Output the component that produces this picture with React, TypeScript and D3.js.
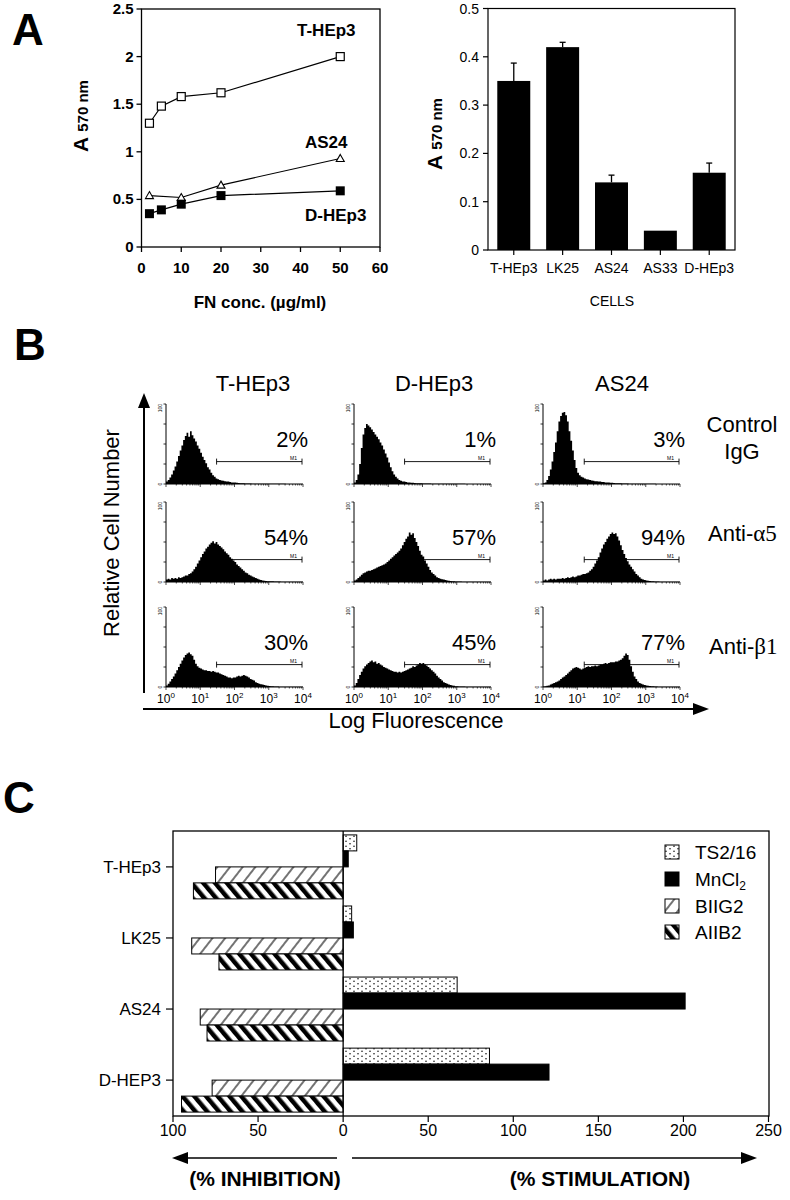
import React from 'react';
import * as d3 from 'd3';

// ---------- Panel A (left): adhesion vs FN concentration ----------
const fnConc = [2, 5, 10, 20, 50];
const tHEp3Curve = [1.3, 1.48, 1.58, 1.62, 2.0];
const as24Conc = [2, 10, 20, 50];
const as24Curve = [0.54, 0.52, 0.65, 0.93];
const dHEp3Curve = [0.35, 0.39, 0.45, 0.54, 0.59];
const fnTicks = [0, 10, 20, 30, 40, 50, 60];
const absTicksL = [0, 0.5, 1, 1.5, 2, 2.5];

// ---------- Panel A (right): bar chart ----------
const cellsA = ['T-HEp3', 'LK25', 'AS24', 'AS33', 'D-HEp3'];
const adhesion = [0.35, 0.42, 0.14, 0.04, 0.16];
const adhesionTop = [0.387, 0.43, 0.155, 0.04, 0.18];
const absTicksR = [0, 0.1, 0.2, 0.3, 0.4, 0.5];

// ---------- Panel B: flow histograms (counts per 0.05-decade bin, 10^0..10^4) ----------
const histCols = ['T-HEp3', 'D-HEp3', 'AS24'];
const histPct = [
  ['2%', '1%', '3%'],
  ['54%', '57%', '94%'],
  ['30%', '45%', '77%'],
];
const markerStart = [30, 30, 16];
const hT_ctrl = [3, 5, 8, 12, 17, 22, 28, 35, 42, 48, 55, 60, 64, 59, 66, 61, 57, 53, 48, 44, 39, 34, 30, 26, 21, 18, 14, 11, 9, 7, 6, 5, 4.5, 4, 3.5, 3, 3, 2.5, 2, 2, 1.8, 1.5, 1.2, 1, 1, 0.8, 0.7, 0.6, 0.5, 0.5, 0.4, 0.4, 0.4, 0.3, 0.3, 0.3, 0.3, 0.3, 0.3, 0.3, 0.2, 0.2, 0.2, 0.2, 0.2, 0.2, 0.2, 0.2, 0.2, 0.2, 0.1, 0.1, 0.1, 0.1, 0.1, 0.1, 0.1, 0.1, 0.1, 0.1];
const hT_a5 = [3, 4, 3, 5, 4, 5, 4, 6, 5, 6, 7, 8, 8, 10, 11, 13, 16, 19, 23, 27, 31, 35, 38, 42, 44, 47, 49, 51, 48, 50, 47, 45, 43, 41, 38, 36, 34, 31, 29, 27, 25, 22, 20, 18, 16, 14, 12, 11, 9, 8, 7, 6, 5, 4, 3, 2.5, 2, 1.5, 1.2, 1, 1, 0.8, 0.8, 0.6, 0.5, 0.5, 0.5, 0.4, 0.4, 0.4, 0.3, 0.3, 0.3, 0.3, 0.3, 0.3, 0.3, 0.3, 0.3, 0.3];
const hT_b1 = [2, 4, 7, 10, 13, 17, 21, 25, 29, 33, 37, 40, 42, 43, 41, 39, 34, 29, 26, 24, 23, 22, 21, 21, 20, 20, 19, 20, 19, 18, 18, 17, 16, 15, 14, 13, 12, 12, 11, 12, 12, 13, 14, 13, 14, 15, 14, 13, 12, 10, 9, 8, 6, 5, 4, 3.5, 3, 2.5, 2, 1.5, 1.2, 1, 0.8, 0.7, 0.6, 0.5, 0.4, 0.4, 0.3, 0.3, 0.3, 0.3, 0.2, 0.2, 0.2, 0.2, 0.2, 0.2, 0.2, 0.2];
const hD_ctrl = [2, 5, 12, 25, 45, 62, 70, 75, 73, 71, 68, 65, 62, 59, 56, 52, 48, 43, 38, 33, 27, 21, 16, 12, 9, 7, 5, 4, 3, 3, 2.5, 2, 2, 1.5, 1.5, 1.2, 1, 1, 0.8, 0.8, 0.7, 0.6, 0.5, 0.5, 0.5, 0.4, 0.4, 0.4, 0.3, 0.3, 0.3, 0.3, 0.3, 0.3, 0.2, 0.2, 0.2, 0.2, 0.2, 0.2, 0.2, 0.2, 0.2, 0.2, 0.2, 0.1, 0.1, 0.1, 0.1, 0.1, 0.1, 0.1, 0.1, 0.1, 0.1, 0.1, 0.1, 0.1, 0.1, 0.1];
const hD_a5 = [2, 3, 5, 7, 9, 11, 12, 13, 14, 14, 15, 16, 17, 18, 19, 20, 21, 22, 23, 25, 27, 29, 31, 33, 35, 37, 39, 42, 46, 50, 54, 57, 62, 59, 61, 55, 50, 45, 39, 34, 32, 27, 23, 19, 15, 12, 10, 8, 6, 5, 4, 3.5, 3, 2.5, 2, 1.5, 1.2, 1, 0.8, 0.7, 0.6, 0.5, 0.5, 0.4, 0.4, 0.3, 0.3, 0.3, 0.3, 0.3, 0.2, 0.2, 0.2, 0.2, 0.2, 0.2, 0.2, 0.2, 0.2, 0.2];
const hD_b1 = [2, 5, 10, 15, 19, 23, 26, 28, 30, 32, 33, 31, 32, 29, 30, 28, 27, 25, 24, 23, 22, 21, 20, 19, 19, 18, 19, 18, 19, 20, 21, 22, 23, 24, 26, 25, 27, 28, 30, 29, 30, 28, 27, 25, 23, 21, 19, 17, 14, 12, 10, 8, 6, 5, 4, 3, 2.5, 2, 1.5, 1, 0.8, 0.7, 0.6, 0.5, 0.5, 0.4, 0.4, 0.3, 0.3, 0.3, 0.2, 0.2, 0.2, 0.2, 0.2, 0.2, 0.2, 0.2, 0.2, 0.2];
const hA_ctrl = [1, 2, 5, 10, 18, 28, 40, 52, 66, 78, 85, 89, 90, 86, 78, 66, 54, 42, 30, 20, 14, 11, 9, 8, 7, 6, 5.5, 5, 4.5, 4, 3.5, 3.5, 3, 3, 2.5, 2.5, 2, 2, 1.8, 1.5, 1.5, 1.2, 1, 1, 0.8, 0.8, 0.6, 0.6, 0.5, 0.5, 0.4, 0.4, 0.4, 0.3, 0.3, 0.3, 0.3, 0.3, 0.2, 0.2, 0.2, 0.2, 0.2, 0.2, 0.2, 0.2, 0.1, 0.1, 0.1, 0.1, 0.1, 0.1, 0.1, 0.1, 0.1, 0.1, 0.1, 0.1, 0.1, 0.1];
const hA_a5 = [2, 3, 2, 3, 4, 3, 4, 3, 4, 4, 4, 5, 4, 5, 6, 5, 6, 7, 6, 7, 8, 8, 9, 10, 10, 11, 12, 14, 16, 19, 23, 27, 31, 37, 42, 47, 50, 54, 57, 60, 62, 60, 61, 57, 52, 46, 40, 35, 30, 26, 22, 19, 16, 13, 10, 8, 6, 4, 3, 2.5, 2, 1.5, 1.2, 1, 0.8, 0.6, 0.5, 0.5, 0.4, 0.4, 0.3, 0.3, 0.3, 0.3, 0.2, 0.2, 0.2, 0.2, 0.2, 0.2];
const hA_b1 = [0.5, 1, 1.5, 2, 3, 4, 5, 6, 7, 8, 10, 12, 13, 15, 17, 19, 21, 23, 24, 25, 24, 23, 22, 23, 24, 25, 26, 25, 26, 26, 27, 26, 27, 28, 28, 29, 30, 29, 30, 31, 31, 31, 32, 32, 33, 34, 36, 39, 42, 40, 34, 26, 19, 13, 10, 7, 5, 4, 3, 2.5, 2, 1.5, 1.2, 1, 0.8, 0.6, 0.5, 0.4, 0.4, 0.3, 0.2, 0.2, 0.2, 0.2, 0.2, 0.2, 0.2, 0.2, 0.2, 0.2];
const histData = [
  [hT_ctrl, hD_ctrl, hA_ctrl],
  [hT_a5, hD_a5, hA_a5],
  [hT_b1, hD_b1, hA_b1],
];
const decades = [0, 1, 2, 3, 4];

// ---------- Panel C: inhibition / stimulation ----------
const cellsC = ['T-HEp3', 'LK25', 'AS24', 'D-HEP3'];
const treatments = ['TS2/16', 'MnCl2', 'BIIG2', 'AIIB2'];
const ts216 = [8, 5, 67, 86];
const mncl2 = [3, 6, 201, 121];
const biig2 = [-75, -89, -84, -77];
const aiib2 = [-88, -73, -80, -95];
const pctTicks = [-100, -50, 0, 50, 100, 150, 200, 250];

const FONT = '"Liberation Sans", Arial, Helvetica, sans-serif';
const SERIF = '"Liberation Serif", "Times New Roman", serif';

function PanelALeft() {
  const x = d3.scaleLinear().domain([0, 60]).range([141.5, 380]);
  const y = d3.scaleLinear().domain([0, 2.5]).range([247, 9]);
  const line = d3.line<[number, number]>().x(d => x(d[0])).y(d => y(d[1]));
  const tPts = fnConc.map((c, i) => [c, tHEp3Curve[i]] as [number, number]);
  const aPts = as24Conc.map((c, i) => [c, as24Curve[i]] as [number, number]);
  const dPts = fnConc.map((c, i) => [c, dHEp3Curve[i]] as [number, number]);
  return (
    <g fontFamily={FONT} fontWeight="bold">
      <rect x={x(0)} y={y(2.5)} width={x(60) - x(0)} height={y(0) - y(2.5)} fill="none" stroke="black" strokeWidth={1.3} />
      {absTicksL.map(t => (
        <g key={t}>
          <line x1={x(0) - 5} x2={x(0)} y1={y(t)} y2={y(t)} stroke="black" strokeWidth={1.3} />
          <text x={x(0) - 8} y={y(t) + 5} textAnchor="end" fontSize={15}>{t}</text>
        </g>
      ))}
      {fnTicks.map(t => (
        <g key={t}>
          <line x1={x(t)} x2={x(t)} y1={y(0)} y2={y(0) + 5} stroke="black" strokeWidth={1.3} />
          <text x={x(t)} y={273} textAnchor="middle" fontSize={15}>{t}</text>
        </g>
      ))}
      <text x={260} y={308} textAnchor="middle" fontSize={17}>FN conc. (µg/ml)</text>
      <text transform="translate(88,116) rotate(-90)" textAnchor="middle">
        <tspan fontSize={21}>A</tspan>
        <tspan fontSize={15} dx={5}>570 nm</tspan>
      </text>
      <path d={line(tPts) || ''} fill="none" stroke="black" strokeWidth={1.2} />
      <path d={line(aPts) || ''} fill="none" stroke="black" strokeWidth={1.2} />
      <path d={line(dPts) || ''} fill="none" stroke="black" strokeWidth={1.2} />
      {tPts.map((p, i) => (
        <rect key={'t' + i} x={x(p[0]) - 4} y={y(p[1]) - 4} width={8} height={8} fill="white" stroke="black" strokeWidth={1.2} />
      ))}
      {aPts.map((p, i) => (
        <path key={'a' + i} d={`M${x(p[0])},${y(p[1]) - 4}L${x(p[0]) + 4},${y(p[1]) + 3}L${x(p[0]) - 4},${y(p[1]) + 3}Z`} fill="white" stroke="black" strokeWidth={1.1} />
      ))}
      {dPts.map((p, i) => (
        <rect key={'d' + i} x={x(p[0]) - 4.5} y={y(p[1]) - 4.5} width={9} height={9} fill="black" />
      ))}
      <text x={297} y={36} fontSize={17}>T-HEp3</text>
      <text x={305} y={148} fontSize={17}>AS24</text>
      <text x={305} y={221} fontSize={17}>D-HEp3</text>
    </g>
  );
}

function PanelARight() {
  const x = d3.scaleBand().domain(cellsA).range([488, 735]).paddingInner(0.325).paddingOuter(0.19);
  const y = d3.scaleLinear().domain([0, 0.5]).range([250, 8.5]);
  return (
    <g fontFamily={FONT}>
      <rect x={488} y={y(0.5)} width={735 - 488} height={y(0) - y(0.5)} fill="none" stroke="black" strokeWidth={1.2} />
      {absTicksR.map(t => (
        <g key={t}>
          <line x1={483} x2={488} y1={y(t)} y2={y(t)} stroke="black" strokeWidth={1.2} />
          <text x={479} y={y(t) + 5} textAnchor="end" fontSize={14}>{t}</text>
        </g>
      ))}
      {cellsA.map((c, i) => {
        const bx = x(c) as number;
        const bw = x.bandwidth();
        const cx = bx + bw / 2;
        return (
          <g key={c}>
            <rect x={bx} y={y(adhesion[i])} width={bw} height={y(0) - y(adhesion[i])} fill="black" />
            {adhesionTop[i] > adhesion[i] && (
              <g stroke="black" strokeWidth={1.3}>
                <line x1={cx} x2={cx} y1={y(adhesion[i])} y2={y(adhesionTop[i])} />
                <line x1={cx - 3} x2={cx + 3} y1={y(adhesionTop[i])} y2={y(adhesionTop[i])} />
              </g>
            )}
            <line x1={cx} x2={cx} y1={250} y2={255} stroke="black" strokeWidth={1.2} />
            <text x={cx} y={273} textAnchor="middle" fontSize={14}>{c}</text>
          </g>
        );
      })}
      <text x={612} y={306} textAnchor="middle" fontSize={14}>CELLS</text>
      <text transform="translate(442,134) rotate(-90)" textAnchor="middle" fontWeight="bold">
        <tspan fontSize={21}>A</tspan>
        <tspan fontSize={15} dx={5}>570 nm</tspan>
      </text>
    </g>
  );
}

function Histogram({ vals, x0, base, pct, mStart, showLabels }: any) {
  const W = 137;
  const n = vals.length;
  const xh = d3.scaleLog().domain([1, 10000]).range([0, W]);
  const yh = d3.scaleLinear().domain([0, 100]).range([0, -80]);
  const pts: [number, number][] = vals.map((v: number, i: number) => [Math.pow(10, (4 * i) / n), v]);
  pts.push([10000, vals[n - 1]]);
  const area = d3.area<[number, number]>().x(d => xh(d[0])).y0(0).y1(d => yh(d[1])).curve(d3.curveStepAfter);
  const minor = xh.ticks();
  const yt = [0, 25, 50, 75, 100];
  const my = yh(28);
  return (
    <g transform={`translate(${x0},${base})`}>
      <path d={area(pts) || ''} fill="black" />
      <line x1={0} x2={W} y1={0} y2={0} stroke="black" strokeWidth={1} />
      <line x1={0} x2={0} y1={0} y2={-80} stroke="black" strokeWidth={1} />
      {yt.map(t => (
        <line key={t} x1={-2.5} x2={0} y1={yh(t)} y2={yh(t)} stroke="black" strokeWidth={0.8} />
      ))}
      {minor.map((t, i) => (
        <line key={i} x1={xh(t)} x2={xh(t)} y1={0} y2={decades.some(d => Math.abs(Math.log10(t) - d) < 1e-6) ? 3 : 1.5} stroke="black" strokeWidth={0.7} />
      ))}
      <text transform={`translate(-4,${yh(100)}) rotate(-90)`} textAnchor="end" fontSize={5} fontFamily={FONT}>100</text>
      <text transform={`translate(-4,0) rotate(-90)`} textAnchor="middle" fontSize={5} fontFamily={FONT}>0</text>
      <g stroke="black" strokeWidth={0.9}>
        <line x1={xh(mStart)} x2={xh(10000) - 1} y1={my} y2={my} />
        <line x1={xh(mStart)} x2={xh(mStart)} y1={my - 3} y2={my + 3} />
        <line x1={xh(10000) - 1} x2={xh(10000) - 1} y1={my - 3} y2={my + 3} />
      </g>
      <text x={xh(10000) - 13} y={my - 2} fontSize={5} fontFamily={FONT}>M1</text>
      <text x={142} y={-37} textAnchor="end" fontSize={22} fontFamily={FONT}>{pct}</text>
      {showLabels && decades.map(d => (
        <text key={d} x={xh(Math.pow(10, d))} y={16} textAnchor="middle" fontSize={12} fontFamily={FONT}>
          10<tspan dy={-5} fontSize={8}>{d}</tspan>
        </text>
      ))}
    </g>
  );
}

function PanelB() {
  const colX = [166, 354, 543];
  const rowBase = [484, 582, 687];
  const titleX = [253, 434, 622];
  return (
    <g fontFamily={FONT}>
      <text x={14} y={360} fontSize={44} fontWeight="bold">B</text>
      {histCols.map((c, i) => (
        <text key={c} x={titleX[i]} y={391} textAnchor="middle" fontSize={22}>{c}</text>
      ))}
      {histData.map((row, r) =>
        row.map((vals, c) => (
          <Histogram key={r + '-' + c} vals={vals} x0={colX[c]} base={rowBase[r]} pct={histPct[r][c]} mStart={markerStart[c]} showLabels={r === 2} />
        ))
      )}
      <line x1={144} x2={144} y1={406} y2={693} stroke="black" strokeWidth={2} />
      <path d="M144,393 L150,408 L138,408 Z" fill="black" />
      <line x1={143} x2={695} y1={709} y2={709} stroke="black" strokeWidth={2} />
      <path d="M709,709 L693,703 L693,715 Z" fill="black" />
      <text transform="translate(119,533) rotate(-90)" textAnchor="middle" fontSize={22}>Relative Cell Number</text>
      <text x={416} y={728} textAnchor="middle" fontSize={22}>Log Fluorescence</text>
      <text x={742} y={432} textAnchor="middle" fontSize={22}>Control</text>
      <text x={742} y={459} textAnchor="middle" fontSize={22}>IgG</text>
      <text x={708} y={541} fontSize={22}>Anti-<tspan fontFamily={SERIF} fontSize={23}>α5</tspan></text>
      <text x={709} y={654} fontSize={22}>Anti-<tspan fontFamily={SERIF} fontSize={23}>β1</tspan></text>
    </g>
  );
}

function PanelC() {
  const x = d3.scaleLinear().domain([-100, 250]).range([173, 768.5]);
  const y = d3.scaleBand().domain(cellsC).range([831, 1116]).paddingInner(0.1).paddingOuter(0.055);
  const sub = d3.scaleBand().domain(treatments).range([0, y.bandwidth()]);
  const series = [ts216, mncl2, biig2, aiib2];
  const fills = ['url(#dots)', 'black', 'url(#thin)', 'url(#thick)'];
  const legY = [852, 879, 906, 932];
  return (
    <g fontFamily={FONT}>
      <text x={3} y={813} fontSize={44} fontWeight="bold">C</text>
      <rect x={173} y={831} width={769 - 173} height={1116 - 831} fill="white" stroke="black" strokeWidth={1.3} />
      {cellsC.map((c, ci) => (
        <g key={c}>
          {treatments.map((t, ti) => {
            const v = series[ti][ci];
            const by = (y(c) as number) + (sub(t) as number);
            const x0 = Math.min(x(0), x(v));
            const w = Math.abs(x(v) - x(0));
            return <rect key={t} x={x0} y={by} width={w} height={sub.bandwidth()} fill={fills[ti]} stroke="black" strokeWidth={1} />;
          })}
          <line x1={166} x2={173} y1={(y(c) as number) + y.bandwidth() / 2} y2={(y(c) as number) + y.bandwidth() / 2} stroke="black" strokeWidth={1.2} />
          <text x={161} y={(y(c) as number) + y.bandwidth() / 2 + 6} textAnchor="end" fontSize={17}>{c}</text>
        </g>
      ))}
      <line x1={x(0)} x2={x(0)} y1={831} y2={1116} stroke="black" strokeWidth={1.3} />
      {pctTicks.map(t => (
        <g key={t}>
          <line x1={x(t)} x2={x(t)} y1={1116} y2={1122} stroke="black" strokeWidth={1.2} />
          <text x={x(t)} y={1136} textAnchor="middle" fontSize={16}>{Math.abs(t)}</text>
        </g>
      ))}
      <line x1={186} x2={337} y1={1158} y2={1158} stroke="black" strokeWidth={1.3} />
      <path d="M172,1158 L188,1152 L188,1164 Z" fill="black" />
      <line x1={352} x2={742} y1={1158} y2={1158} stroke="black" strokeWidth={1.3} />
      <path d="M757,1158 L741,1152 L741,1164 Z" fill="black" />
      <text x={265} y={1186} textAnchor="middle" fontSize={21} fontWeight="bold">(% INHIBITION)</text>
      <text x={600} y={1186} textAnchor="middle" fontSize={21} fontWeight="bold">(% STIMULATION)</text>
      {treatments.map((t, i) => (
        <g key={t}>
          <rect x={665} y={legY[i] - 7} width={14} height={14} fill={fills[i]} stroke="black" strokeWidth={1} />
          <text x={695} y={legY[i] + 7} fontSize={19}>
            {t === 'MnCl2' ? (<>MnCl<tspan dy={4} fontSize={12}>2</tspan></>) : t}
          </text>
        </g>
      ))}
    </g>
  );
}

export default function App() {
  return (
    <svg width={790} height={1200} viewBox="0 0 790 1200" style={{ position: 'absolute', left: 0, top: 0, background: 'white' }}>
      <defs>
        <pattern id="dots" patternUnits="userSpaceOnUse" width={8} height={5}>
          <rect width={8} height={5} fill="white" />
          <circle cx={2} cy={1.25} r={0.75} fill="black" />
          <circle cx={6} cy={3.75} r={0.75} fill="black" />
        </pattern>
        <pattern id="thin" patternUnits="userSpaceOnUse" width={10} height={10} patternTransform="rotate(38)">
          <rect width={10} height={10} fill="white" />
          <line x1={5} y1={0} x2={5} y2={10} stroke="black" strokeWidth={1.1} />
        </pattern>
        <pattern id="thick" patternUnits="userSpaceOnUse" width={9} height={9} patternTransform="rotate(-40)">
          <rect width={9} height={9} fill="white" />
          <rect x={0} y={0} width={4.5} height={9} fill="black" />
        </pattern>
      </defs>
      <rect width={790} height={1200} fill="white" />
      <text x={12} y={45} fontSize={44} fontWeight="bold" fontFamily={FONT}>A</text>
      <PanelALeft />
      <PanelARight />
      <PanelB />
      <PanelC />
    </svg>
  );
}
